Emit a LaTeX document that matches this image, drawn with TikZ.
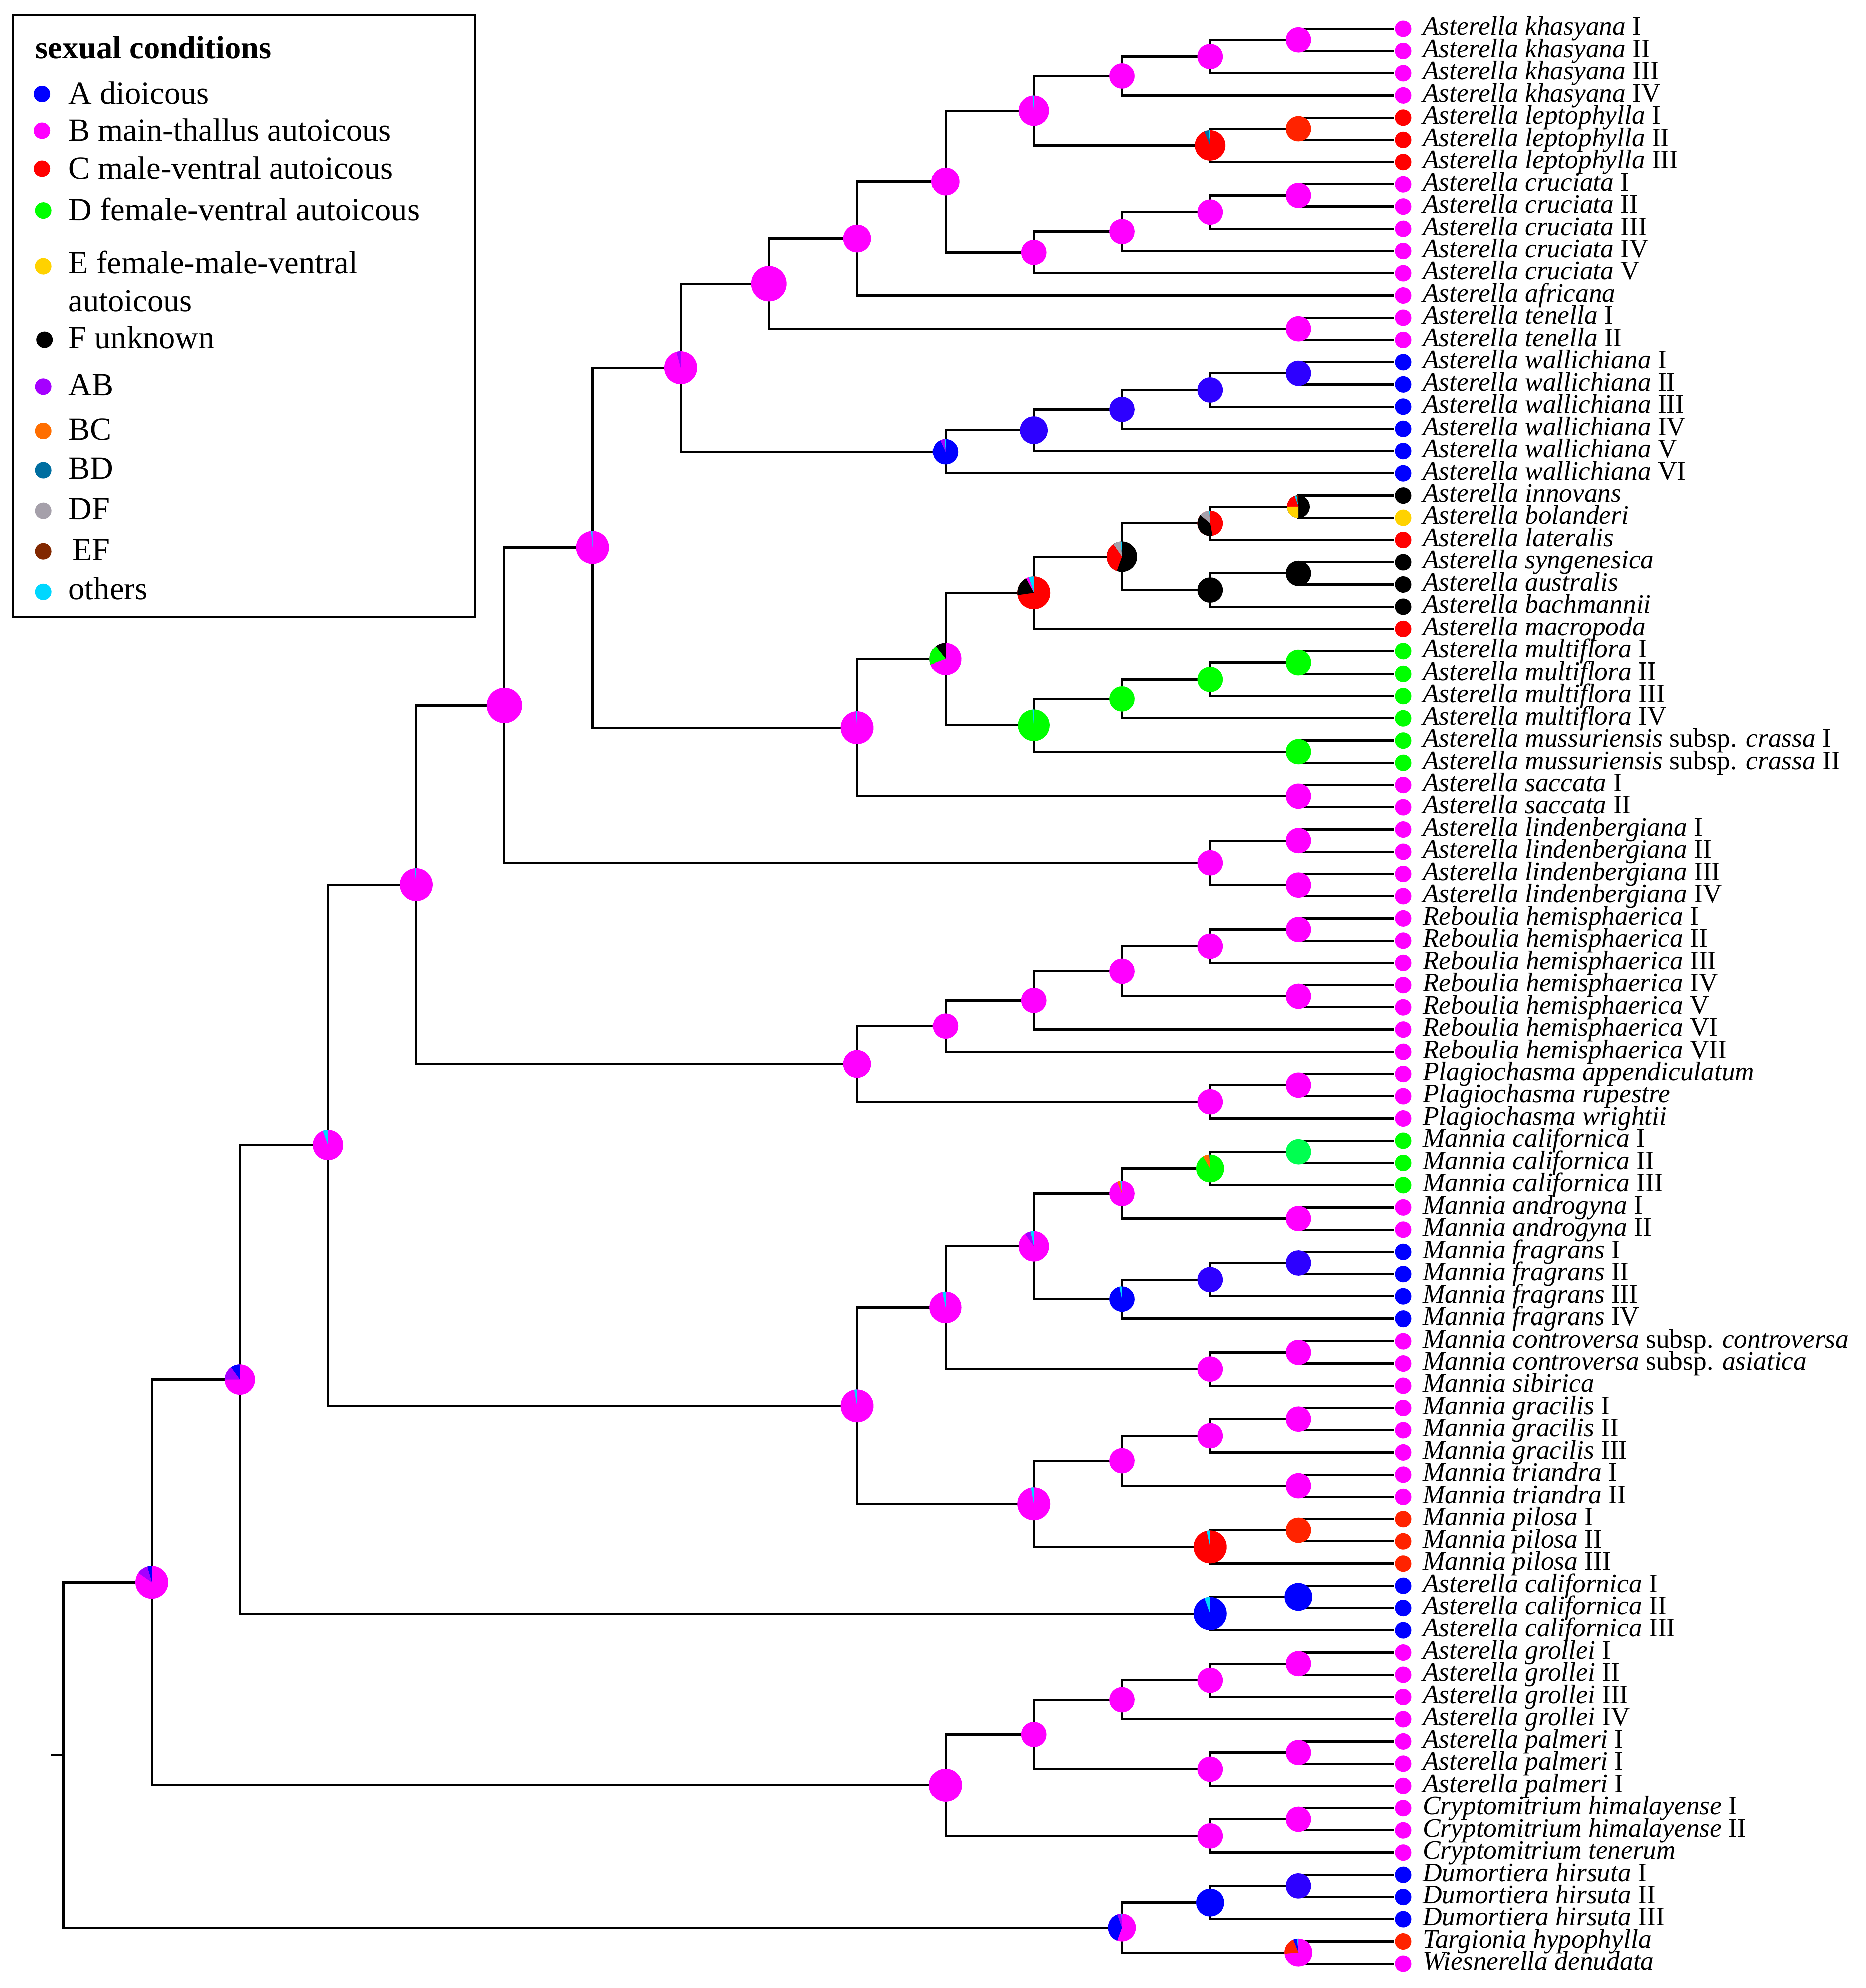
\documentclass[tikz,border=0pt]{standalone}
\usepackage{fontspec}
\setmainfont{Liberation Serif}

\definecolor{cA}{RGB}{0,0,255}
\definecolor{cB}{RGB}{255,0,255}
\definecolor{cC}{RGB}{255,0,0}
\definecolor{cD}{RGB}{0,255,0}
\definecolor{cE}{RGB}{255,210,0}
\definecolor{cF}{RGB}{0,0,0}
\definecolor{cAB}{RGB}{165,0,255}
\definecolor{cBC}{RGB}{255,110,0}
\definecolor{cBD}{RGB}{0,110,160}
\definecolor{cDF}{RGB}{165,160,170}
\definecolor{cEF}{RGB}{130,40,0}
\definecolor{cOth}{RGB}{0,215,255}
\definecolor{cAi}{RGB}{45,0,255}
\definecolor{cCo}{RGB}{255,35,0}
\definecolor{cDl}{RGB}{0,255,80}

\tikzset{
  tipdot/.style={circle,inner sep=0pt,minimum size=0.26cm},
  tiplabel/.style={anchor=mid west,inner sep=0pt,yshift=-0.6pt,font=\fontsize{12}{12}\selectfont},
  legtext/.style={anchor=mid west,inner sep=0pt,font=\fontsize{14.5}{17}\selectfont},
}

% pie at a named point: name, radius, main colour, slices start/end/colour
\newcommand{\pienode}[4]{%
  \fill[#3] (#1) circle[radius=#2];
  \foreach \a/\b/\c in {#4}
    {\fill[\c] (#1) -- ++(\a:#2) arc[start angle=\a,end angle=\b,radius=#2] -- cycle;}}

\begin{document}
\begin{tikzpicture}[x=0.02cm,y=-0.02cm,line width=1pt]
\useasboundingbox (0,0) rectangle (1472,1568);

% legend
\draw[line width=0.9pt] (10,12) rectangle (375,487);
\node[legtext,font=\bfseries\fontsize{14.5}{17}\selectfont] (ltitle) at (27,42) {sexual conditions};
\begin{scope}[every node/.style={tipdot}]
  \node[fill=cA]   (dA)  at (33,74)  {};
  \node[fill=cB]   (dB)  at (33,103) {};
  \node[fill=cC]   (dC)  at (33,133) {};
  \node[fill=cD]   (dD)  at (34,166) {};
  \node[fill=cE]   (dE)  at (34,210) {};
  \node[fill=cF]   (dF)  at (35,268) {};
  \node[fill=cAB]  (dAB) at (34,305) {};
  \node[fill=cBC]  (dBC) at (34,340) {};
  \node[fill=cBD]  (dBD) at (34,371) {};
  \node[fill=cDF]  (dDF) at (34,403) {};
  \node[fill=cEF]  (dEF) at (34,435) {};
  \node[fill=cOth] (dO)  at (34,467) {};
\end{scope}
\node[legtext] (lA)  at (53,78)  {A dioicous};
\node[legtext] (lB)  at (53,107) {B main-thallus autoicous};
\node[legtext] (lC)  at (53,137) {C male-ventral autoicous};
\node[legtext] (lD)  at (53,170) {D female-ventral autoicous};
\node[legtext,align=left,anchor=north west] (lE) at (53,197) {E female-male-ventral\\autoicous};
\node[legtext] (lF)  at (53,271) {F unknown};
\node[legtext] (lAB) at (53,308) {AB};
\node[legtext] (lBC) at (53,343) {BC};
\node[legtext] (lBD) at (53,374) {BD};
\node[legtext] (lDF) at (53,406) {DF};
\node[legtext] (lEF) at (56,438) {EF};
\node[legtext] (lO)  at (53,469) {others};

\begin{scope}[shift={(1cm,-0.45cm)},x=1.392cm,y=-0.351cm]

% tips
\foreach \nm/\cl/\lab [count=\r from 0] in {
  kh1/cB/{\textit{Asterella khasyana} I}, kh2/cB/{\textit{Asterella khasyana} II},
  kh3/cB/{\textit{Asterella khasyana} III}, kh4/cB/{\textit{Asterella khasyana} IV},
  le1/cC/{\textit{Asterella leptophylla} I}, le2/cC/{\textit{Asterella leptophylla} II},
  le3/cC/{\textit{Asterella leptophylla} III},
  cr1/cB/{\textit{Asterella cruciata} I}, cr2/cB/{\textit{Asterella cruciata} II},
  cr3/cB/{\textit{Asterella cruciata} III}, cr4/cB/{\textit{Asterella cruciata} IV},
  cr5/cB/{\textit{Asterella cruciata} V},
  af/cB/{\textit{Asterella africana}},
  te1/cB/{\textit{Asterella tenella} I}, te2/cB/{\textit{Asterella tenella} II},
  wa1/cA/{\textit{Asterella wallichiana} I}, wa2/cA/{\textit{Asterella wallichiana} II},
  wa3/cA/{\textit{Asterella wallichiana} III}, wa4/cA/{\textit{Asterella wallichiana} IV},
  wa5/cA/{\textit{Asterella wallichiana} V}, wa6/cA/{\textit{Asterella wallichiana} VI},
  in/cF/{\textit{Asterella innovans}}, bo/cE/{\textit{Asterella bolanderi}},
  la/cC/{\textit{Asterella lateralis}}, sy/cF/{\textit{Asterella syngenesica}},
  au/cF/{\textit{Asterella australis}}, ba/cF/{\textit{Asterella bachmannii}},
  ma/cC/{\textit{Asterella macropoda}},
  mu1/cD/{\textit{Asterella multiflora} I}, mu2/cD/{\textit{Asterella multiflora} II},
  mu3/cD/{\textit{Asterella multiflora} III}, mu4/cD/{\textit{Asterella multiflora} IV},
  ms1/cD/{\textit{Asterella mussuriensis} subsp. \textit{crassa} I},
  ms2/cD/{\textit{Asterella mussuriensis} subsp. \textit{crassa} II},
  sa1/cB/{\textit{Asterella saccata} I}, sa2/cB/{\textit{Asterella saccata} II},
  li1/cB/{\textit{Asterella lindenbergiana} I}, li2/cB/{\textit{Asterella lindenbergiana} II},
  li3/cB/{\textit{Asterella lindenbergiana} III}, li4/cB/{\textit{Asterella lindenbergiana} IV},
  rh1/cB/{\textit{Reboulia hemisphaerica} I}, rh2/cB/{\textit{Reboulia hemisphaerica} II},
  rh3/cB/{\textit{Reboulia hemisphaerica} III}, rh4/cB/{\textit{Reboulia hemisphaerica} IV},
  rh5/cB/{\textit{Reboulia hemisphaerica} V}, rh6/cB/{\textit{Reboulia hemisphaerica} VI},
  rh7/cB/{\textit{Reboulia hemisphaerica} VII},
  pa/cB/{\textit{Plagiochasma appendiculatum}}, pr/cB/{\textit{Plagiochasma rupestre}},
  pw/cB/{\textit{Plagiochasma wrightii}},
  mc1/cD/{\textit{Mannia californica} I}, mc2/cD/{\textit{Mannia californica} II},
  mc3/cD/{\textit{Mannia californica} III},
  an1/cB/{\textit{Mannia androgyna} I}, an2/cB/{\textit{Mannia androgyna} II},
  fr1/cA/{\textit{Mannia fragrans} I}, fr2/cA/{\textit{Mannia fragrans} II},
  fr3/cA/{\textit{Mannia fragrans} III}, fr4/cA/{\textit{Mannia fragrans} IV},
  co1/cB/{\textit{Mannia controversa} subsp. \textit{controversa}},
  co2/cB/{\textit{Mannia controversa} subsp. \textit{asiatica}},
  si/cB/{\textit{Mannia sibirica}},
  gr1/cB/{\textit{Mannia gracilis} I}, gr2/cB/{\textit{Mannia gracilis} II},
  gr3/cB/{\textit{Mannia gracilis} III},
  tr1/cB/{\textit{Mannia triandra} I}, tr2/cB/{\textit{Mannia triandra} II},
  pi1/cCo/{\textit{Mannia pilosa} I}, pi2/cCo/{\textit{Mannia pilosa} II},
  pi3/cCo/{\textit{Mannia pilosa} III},
  ac1/cA/{\textit{Asterella californica} I}, ac2/cA/{\textit{Asterella californica} II},
  ac3/cA/{\textit{Asterella californica} III},
  go1/cB/{\textit{Asterella grollei} I}, go2/cB/{\textit{Asterella grollei} II},
  go3/cB/{\textit{Asterella grollei} III}, go4/cB/{\textit{Asterella grollei} IV},
  pm1/cB/{\textit{Asterella palmeri} I}, pm2/cB/{\textit{Asterella palmeri} I},
  pm3/cB/{\textit{Asterella palmeri} I},
  ch1/cB/{\textit{Cryptomitrium himalayense} I}, ch2/cB/{\textit{Cryptomitrium himalayense} II},
  ct/cB/{\textit{Cryptomitrium tenerum}},
  du1/cA/{\textit{Dumortiera hirsuta} I}, du2/cA/{\textit{Dumortiera hirsuta} II},
  du3/cA/{\textit{Dumortiera hirsuta} III},
  ta/cCo/{\textit{Targionia hypophylla}}, wi/cB/{\textit{Wiesnerella denudata}}}
{
  \node[tipdot,fill=\cl] (\nm) at (15.19,\r) {};
  \node[tiplabel] (t\nm) at (15.40,\r) {\lab};
}

% ancestral nodes
\coordinate (n1) at (14,0.5);      \coordinate (n2) at (13,1.25);
\coordinate (n3) at (12,2.125);    \coordinate (n4) at (14,4.5);
\coordinate (n5) at (13,5.25);     \coordinate (n6) at (11,3.6875);
\coordinate (n7) at (14,7.5);      \coordinate (n8) at (13,8.25);
\coordinate (n9) at (12,9.125);    \coordinate (n10) at (11,10.0625);
\coordinate (n11) at (10,6.875);   \coordinate (n12) at (9,9.4375);
\coordinate (n13) at (14,13.5);    \coordinate (n14) at (8,11.469);
\coordinate (n15) at (14,15.5);    \coordinate (n16) at (13,16.25);
\coordinate (n17) at (12,17.125);  \coordinate (n18) at (11,18.0625);
\coordinate (n19) at (10,19.031);  \coordinate (n20) at (7,15.25);
\coordinate (n21) at (14,21.5);    \coordinate (n22) at (13,22.25);
\coordinate (n23) at (14,24.5);    \coordinate (n24) at (13,25.25);
\coordinate (n25) at (12,23.75);   \coordinate (n26) at (11,25.375);
\coordinate (n27) at (14,28.5);    \coordinate (n28) at (13,29.25);
\coordinate (n29) at (12,30.125);  \coordinate (n30) at (14,32.5);
\coordinate (n31) at (11,31.3125); \coordinate (n32) at (10,28.344);
\coordinate (n33) at (14,34.5);    \coordinate (n34) at (9,31.422);
\coordinate (n35) at (6,23.336);   \coordinate (n36) at (14,36.5);
\coordinate (n37) at (14,38.5);    \coordinate (n38) at (13,37.5);
\coordinate (n39) at (5,30.418);   \coordinate (n40) at (14,40.5);
\coordinate (n41) at (13,41.25);   \coordinate (n42) at (14,43.5);
\coordinate (n43) at (12,42.375);  \coordinate (n44) at (11,43.6875);
\coordinate (n45) at (10,44.844);  \coordinate (n46) at (14,47.5);
\coordinate (n47) at (13,48.25);   \coordinate (n48) at (9,46.547);
\coordinate (n49) at (4,38.482);   \coordinate (n50) at (14,50.5);
\coordinate (n51) at (13,51.25);   \coordinate (n52) at (14,53.5);
\coordinate (n53) at (12,52.375);  \coordinate (n54) at (14,55.5);
\coordinate (n55) at (13,56.25);   \coordinate (n56) at (12,57.125);
\coordinate (n57) at (11,54.75);   \coordinate (n58) at (14,59.5);
\coordinate (n59) at (13,60.25);   \coordinate (n60) at (10,57.5);
\coordinate (n61) at (14,62.5);    \coordinate (n62) at (13,63.25);
\coordinate (n63) at (14,65.5);    \coordinate (n64) at (12,64.375);
\coordinate (n65) at (14,67.5);    \coordinate (n66) at (13,68.25);
\coordinate (n67) at (11,66.3125); \coordinate (n68) at (9,61.906);
\coordinate (n69) at (3,50.194);   \coordinate (n70) at (14,70.5);
\coordinate (n71) at (13,71.25);   \coordinate (n72) at (2,60.722);
\coordinate (n73) at (14,73.5);    \coordinate (n74) at (13,74.25);
\coordinate (n75) at (12,75.125);  \coordinate (n76) at (14,77.5);
\coordinate (n77) at (13,78.25);   \coordinate (n78) at (11,76.6875);
\coordinate (n79) at (14,80.5);    \coordinate (n80) at (13,81.25);
\coordinate (n81) at (10,78.969);  \coordinate (n82) at (1,69.845);
\coordinate (n83) at (14,83.5);    \coordinate (n84) at (13,84.25);
\coordinate (n85) at (14,86.5);    \coordinate (n86) at (12,85.375);
\coordinate (n87) at (0,77.61);    \coordinate (root) at (-0.144,77.61);

% branches
\draw (root) -- (n87);
\foreach \p/\q in {
  n1/kh1, n1/kh2, n2/n1, n2/kh3, n3/n2, n3/kh4, n4/le1, n4/le2, n5/n4, n5/le3,
  n6/n3, n6/n5, n7/cr1, n7/cr2, n8/n7, n8/cr3, n9/n8, n9/cr4, n10/n9, n10/cr5,
  n11/n6, n11/n10, n12/n11, n12/af, n13/te1, n13/te2, n14/n12, n14/n13,
  n15/wa1, n15/wa2, n16/n15, n16/wa3, n17/n16, n17/wa4, n18/n17, n18/wa5,
  n19/n18, n19/wa6, n20/n14, n20/n19, n21/in, n21/bo, n22/n21, n22/la,
  n23/sy, n23/au, n24/n23, n24/ba, n25/n22, n25/n24, n26/n25, n26/ma,
  n27/mu1, n27/mu2, n28/n27, n28/mu3, n29/n28, n29/mu4, n30/ms1, n30/ms2,
  n31/n29, n31/n30, n32/n26, n32/n31, n33/sa1, n33/sa2, n34/n32, n34/n33,
  n35/n20, n35/n34, n36/li1, n36/li2, n37/li3, n37/li4, n38/n36, n38/n37,
  n39/n35, n39/n38, n40/rh1, n40/rh2, n41/n40, n41/rh3, n42/rh4, n42/rh5,
  n43/n41, n43/n42, n44/n43, n44/rh6, n45/n44, n45/rh7, n46/pa, n46/pr,
  n47/n46, n47/pw, n48/n45, n48/n47, n49/n39, n49/n48, n50/mc1, n50/mc2,
  n51/n50, n51/mc3, n52/an1, n52/an2, n53/n51, n53/n52, n54/fr1, n54/fr2,
  n55/n54, n55/fr3, n56/n55, n56/fr4, n57/n53, n57/n56, n58/co1, n58/co2,
  n59/n58, n59/si, n60/n57, n60/n59, n61/gr1, n61/gr2, n62/n61, n62/gr3,
  n63/tr1, n63/tr2, n64/n62, n64/n63, n65/pi1, n65/pi2, n66/n65, n66/pi3,
  n67/n64, n67/n66, n68/n60, n68/n67, n69/n49, n69/n68, n70/ac1, n70/ac2,
  n71/n70, n71/ac3, n72/n69, n72/n71, n73/go1, n73/go2, n74/n73, n74/go3,
  n75/n74, n75/go4, n76/pm1, n76/pm2, n77/n76, n77/pm3, n78/n75, n78/n77,
  n79/ch1, n79/ch2, n80/n79, n80/ct, n81/n78, n81/n80, n82/n72, n82/n81,
  n83/du1, n83/du2, n84/n83, n84/du3, n85/ta, n85/wi, n86/n84, n86/n85,
  n87/n82, n87/n86}
  \draw (\p) |- (\q);

% one-state ancestors
\foreach \n/\rr/\cl in {
  n1/0.2/cB, n2/0.2/cB, n3/0.2/cB, n4/0.2/cCo, n7/0.2/cB, n8/0.2/cB, n9/0.2/cB,
  n10/0.2/cB, n11/0.22/cB, n12/0.22/cB, n13/0.2/cB, n14/0.28/cB,
  n15/0.2/cAi, n16/0.2/cAi, n17/0.2/cAi, n18/0.22/cAi, n23/0.2/cF, n24/0.2/cF,
  n27/0.2/cD, n28/0.2/cD, n29/0.2/cD, n30/0.2/cD, n33/0.2/cB, n36/0.2/cB,
  n37/0.2/cB, n38/0.2/cB, n39/0.28/cB, n40/0.2/cB, n41/0.2/cB, n42/0.2/cB,
  n43/0.2/cB, n44/0.2/cB, n45/0.2/cB, n46/0.2/cB, n47/0.2/cB, n48/0.22/cB,
  n50/0.2/cDl, n52/0.2/cB, n54/0.2/cAi, n55/0.2/cAi, n58/0.2/cB, n59/0.2/cB,
  n61/0.2/cB, n62/0.2/cB, n63/0.2/cB, n64/0.2/cB, n65/0.2/cCo, n70/0.22/cA,
  n73/0.2/cB, n74/0.2/cB, n75/0.2/cB, n76/0.2/cB, n77/0.2/cB, n78/0.2/cB,
  n79/0.2/cB, n80/0.2/cB, n81/0.26/cB, n83/0.2/cAi, n84/0.22/cA}
  \fill[\cl] (\n) circle[radius=\rr cm];

% mixed ancestors
\pienode{n5}{0.24cm}{cC}{90/96/cOth, 96/112/cBD}
\pienode{n6}{0.24cm}{cB}{90/95/cOth}
\pienode{n19}{0.2cm}{cA}{90/94/cOth, 94/115/cAB}
\pienode{n20}{0.26cm}{cB}{90/105/cAB}
\pienode{n21}{0.18cm}{cF}{90/100/cEF, 100/110/cOth, 110/180/cC, 180/270/cE}
\pienode{n22}{0.2cm}{cC}{90/95/cOth, 95/140/cDF, 140/280/cF}
\pienode{n25}{0.24cm}{cF}{90/95/cOth, 95/125/cDF, 125/250/cC}
\pienode{n26}{0.26cm}{cC}{90/108/cOth, 108/118/cB, 118/188/cF}
\pienode{n31}{0.25cm}{cD}{90/95/cOth}
\pienode{n32}{0.25cm}{cB}{90/128/cF, 128/200/cD}
\pienode{n34}{0.26cm}{cB}{90/94/cOth}
\pienode{n35}{0.26cm}{cB}{90/95/cOth}
\pienode{n49}{0.26cm}{cB}{90/95/cOth}
\pienode{n51}{0.22cm}{cD}{90/94/cBD, 94/120/cBC}
\pienode{n53}{0.2cm}{cB}{90/98/cOth, 98/112/cBC}
\pienode{n56}{0.2cm}{cA}{90/102/cOth}
\pienode{n57}{0.24cm}{cB}{90/103/cOth, 103/125/cAB}
\pienode{n60}{0.25cm}{cB}{90/102/cOth}
\pienode{n66}{0.26cm}{cC}{90/102/cOth}
\pienode{n67}{0.26cm}{cB}{90/100/cOth}
\pienode{n68}{0.26cm}{cB}{90/100/cOth}
\pienode{n69}{0.24cm}{cB}{90/110/cOth}
\pienode{n71}{0.26cm}{cA}{90/110/cOth}
\pienode{n72}{0.24cm}{cB}{90/126/cA, 126/180/cAB}
\pienode{n82}{0.26cm}{cB}{90/106/cA, 106/145/cAB}
\pienode{n85}{0.22cm}{cB}{90/96/cOth, 96/112/cA, 112/185/cCo}
\pienode{n86}{0.22cm}{cB}{90/93/cOth, 93/110/cAB, 110/250/cA}

\end{scope}
\end{tikzpicture}
\end{document}
